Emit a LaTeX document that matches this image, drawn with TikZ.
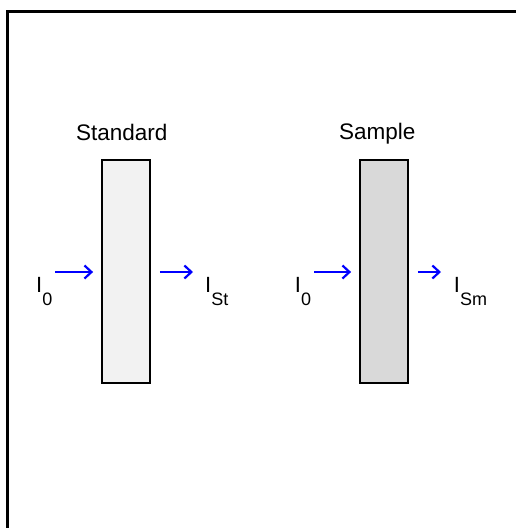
\documentclass[tikz,border=0pt]{standalone}
\usepackage{fontspec}
\setmainfont{Liberation Sans}
\usetikzlibrary{arrows.meta,positioning}
\newcommand{\intens}[1]{I\raisebox{-13pt}{\fontsize{18}{18}\selectfont #1}}

\begin{document}
\begin{tikzpicture}[
    x=1pt, y=-1pt,
    cell/.style={draw=black, line width=1.8pt, minimum width=48pt, minimum height=223pt, inner sep=0pt},
    title/.style={font=\fontsize{22.5}{26}\selectfont, inner sep=0pt, anchor=base},
    flux/.style={font=\fontsize{22}{24}\selectfont, inner sep=0pt, anchor=base west},
    ray/.style={draw=blue, line width=2.2pt, -{Straight Barb[length=7pt,width=13pt]}}
]
\useasboundingbox (0,0) rectangle (516,528);
\clip (0,0) rectangle (516,528);
\draw[line width=2.2pt] (7.5,540) -- (7.5,11.5) -- (540,11.5);

\node[cell, fill=black!5] (std) at (126,271.5) {};
\node[cell, fill=black!15] (smp) at (384,271.5) {};

\node[title] (stdlbl) at (121.7,140) {Standard};
\node[title] (smplbl) at (377.2,139) {Sample};

\node[flux] (inStd) at (36,292) {\intens{0}};
\node[flux] (outStd) at (205,292) {\intens{St}};
\node[flux] (inSmp) at (294.7,292) {\intens{0}};
\node[flux] (outSmp) at (453.7,292) {\intens{Sm}};

\coordinate (a1) at (55,272);
\coordinate (a2) at (193,272);
\coordinate (a3) at (314,272);
\coordinate (a4) at (441,272);

\draw[ray, shorten >=8pt] (a1) -- (a1 -| std.west);
\draw[ray, shorten <=9pt] (a2 -| std.east) -- (a2);
\draw[ray, shorten >=8pt] (a3) -- (a3 -| smp.west);
\draw[ray, shorten <=9pt] (a4 -| smp.east) -- (a4);
\end{tikzpicture}
\end{document}
